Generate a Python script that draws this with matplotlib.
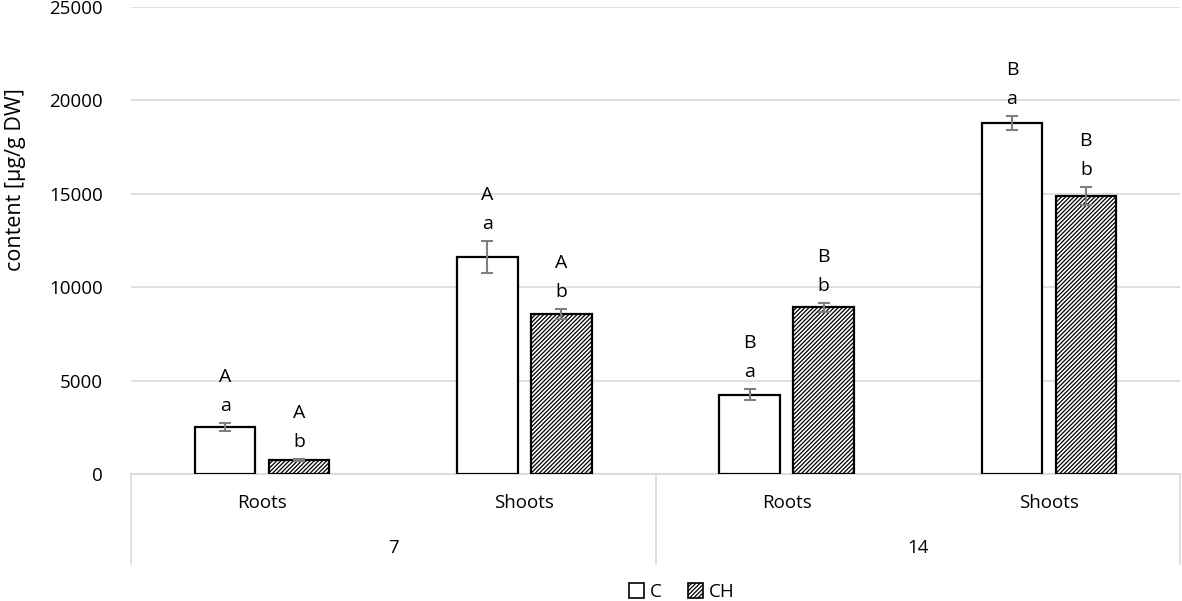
import matplotlib
matplotlib.use('Agg')
import matplotlib.pyplot as plt
from matplotlib.patches import Patch

# --- Data ---
organs = ['Roots', 'Shoots', 'Roots', 'Shoots']
days = ['7', '14']
c_mean = [2520, 11600, 4250, 18800]
c_err = [220, 860, 290, 390]
ch_mean = [730, 8560, 8920, 14880]
ch_err = [50, 280, 250, 490]
c_letters = [('A', 'a'), ('A', 'a'), ('B', 'a'), ('B', 'a')]
ch_letters = [('A', 'b'), ('A', 'b'), ('B', 'b'), ('B', 'b')]

plt.rcParams['font.family'] = ['Open Sans', 'DejaVu Sans']
plt.rcParams['hatch.linewidth'] = 0.9

GRID = '#d9d9d9'
ERR = '#7f7f7f'
HATCH = '////////'
FS = 13.5

fig = plt.figure(figsize=(11.82, 6.01), dpi=100)
ax = fig.add_axes([131 / 1182, 1 - 474 / 601, 1049 / 1182, 467 / 601])

x = list(range(len(organs)))
w = 0.23
off = 0.141
xc = [i - off for i in x]
xh = [i + off for i in x]

ax.bar(xc, c_mean, width=w, color='white', edgecolor='black', linewidth=1.6, zorder=3)
ax.bar(xh, ch_mean, width=w, color='white', edgecolor='black', linewidth=1.6,
       hatch=HATCH, zorder=3)
ax.errorbar(xc, c_mean, yerr=c_err, fmt='none', ecolor=ERR, elinewidth=1.5,
            capsize=4, capthick=1.5, zorder=4)
ax.errorbar(xh, ch_mean, yerr=ch_err, fmt='none', ecolor=ERR, elinewidth=1.5,
            capsize=4, capthick=1.5, zorder=4)

# significance letters above the error bars
for xs, means, errs, letters in [(xc, c_mean, c_err, c_letters),
                                  (xh, ch_mean, ch_err, ch_letters)]:
    for xi, m, e, (up, low) in zip(xs, means, errs, letters):
        ax.annotate(low, (xi, m + e), xytext=(0, 17), textcoords='offset pixels',
                    ha='center', va='center', fontsize=FS + 0.5)
        ax.annotate(up, (xi, m + e), xytext=(0, 46), textcoords='offset pixels',
                    ha='center', va='center', fontsize=FS + 0.5)

ax.set_xlim(-0.5, len(organs) - 0.5)
ax.set_ylim(0, 25000)
ax.set_yticks(range(0, 25001, 5000))
ax.tick_params(axis='y', length=0, pad=20, labelsize=FS)
ax.tick_params(axis='x', length=0, labelbottom=False)
ax.grid(axis='y', color=GRID, linewidth=1.2, zorder=0)
for s in ['top', 'right', 'left']:
    ax.spines[s].set_visible(False)
ax.spines['bottom'].set_color(GRID)
ax.spines['bottom'].set_linewidth(1.2)
ax.spines['bottom'].set_zorder(2)

# two-level category axis
tr = ax.get_xaxis_transform()
for xi, name in zip(x, organs):
    ax.text(xi, -0.062, name, transform=tr, ha='center', va='center', fontsize=FS)
for k, d in enumerate(days):
    ax.text(2 * k + 0.5, -0.158, d, transform=tr, ha='center', va='center', fontsize=FS)
for xb in [-0.5, 1.5, 3.5]:
    ax.plot([xb, xb], [0, -0.192], transform=tr, color=GRID, linewidth=1.2, clip_on=False)

fig.text(0.013, 1 - 180 / 601, 'content [µg/g DW]', rotation=90, ha='center', va='center',
         fontsize=15.5)

handles = [Patch(facecolor='white', edgecolor='black', linewidth=1.2, label='C'),
           Patch(facecolor='white', edgecolor='black', linewidth=1.2, hatch=HATCH, label='CH')]
fig.legend(handles=handles, loc='center', bbox_to_anchor=(0.577, 1 - 592 / 601), ncol=2,
           frameon=False, fontsize=FS, handlelength=0.8, handleheight=0.8,
           handletextpad=0.3, columnspacing=1.4, borderaxespad=0)

fig.savefig('out.png', dpi=100)
